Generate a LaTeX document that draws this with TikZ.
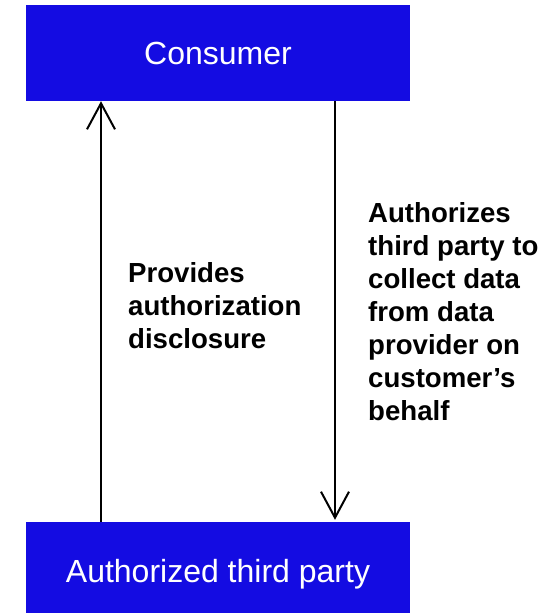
\documentclass[tikz,border=0pt]{standalone}
\usepackage{fontspec}
\setmainfont{Liberation Sans}
\usetikzlibrary{arrows.meta}
\definecolor{boxblue}{RGB}{20,12,226}
\tikzset{
  partybox/.style={draw=none, fill=boxblue, minimum width=384pt, minimum height=96pt, inner sep=0pt},
  partytext/.style={text=white, font=\fontsize{32}{38}\selectfont, inner sep=0pt, anchor=base},
  flowlabel/.style={font=\fontsize{27.6}{33}\selectfont\bfseries, align=left, inner sep=0pt, anchor=north west},
  flow/.style={line width=2pt, -{Straight Barb[length=26pt,width=28pt,line width=2pt]}}
}
\begin{document}
\begin{tikzpicture}[x=1pt,y=-1pt]
\useasboundingbox (0,0) rectangle (547,613);
\node[partybox] (consumer) at (218,53) {};
\node[partytext] (consumertext) at (218,64.5) {Consumer};
\node[partybox, minimum height=91pt] (third) at (218,567.5) {};
\node[partytext] (thirdtext) at (218,582.7) {Authorized third party};
\draw[flow] (third.north -| 101,0) -- (consumer.south -| 101,0);
\draw[flow] (consumer.south -| 335,0) -- ([yshift=2pt]third.north -| 335,0);
\node[flowlabel] (disclose) at (128,262) {Provides\\authorization\\disclosure};
\node[flowlabel] (authorize) at (368,202) {Authorizes\\third party to\\collect data\\from data\\provider on\\customer’s\\behalf};
\end{tikzpicture}
\end{document}
